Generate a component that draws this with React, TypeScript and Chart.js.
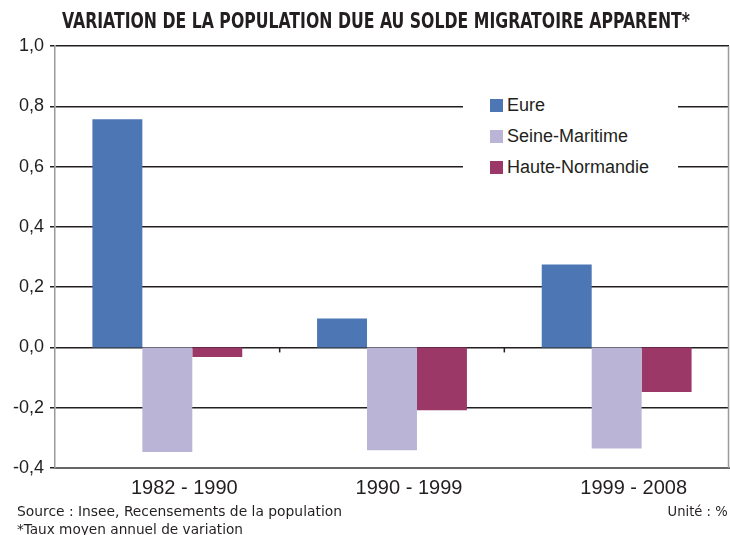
import React, { useEffect, useLayoutEffect, useRef } from "react";
import { Chart, registerables } from "chart.js";

Chart.register(...registerables);

const categories = ["1982 - 1990", "1990 - 1999", "1999 - 2008"];
const eure = [0.757, 0.096, 0.275];
const seineMaritime = [-0.347, -0.341, -0.335];
const hauteNormandie = [-0.032, -0.208, -0.148];
const seriesNames = ["Eure", "Seine-Maritime", "Haute-Normandie"];
const seriesColors = ["#4d76b4", "#bab5d7", "#9c3868"];
const title = "VARIATION DE LA POPULATION DUE AU SOLDE MIGRATOIRE APPARENT*";
const source = "Source : Insee, Recensements de la population";
const note = "*Taux moyen annuel de variation";
const unit = "Unité : %";

const frame = {
  id: "frame",
  afterDatasetsDraw(chart: any) {
    const { ctx, scales, chartArea } = chart;
    const x = scales.x;
    const y0 = scales.y.getPixelForValue(0);
    ctx.save();
    ctx.strokeStyle = "#231f20";
    ctx.lineWidth = 1.5;
    for (let i = 1; i < categories.length; i++) {
      const px = (x.getPixelForValue(i - 1) + x.getPixelForValue(i)) / 2;
      ctx.beginPath();
      ctx.moveTo(px, y0);
      ctx.lineTo(px, y0 + 5);
      ctx.stroke();
    }
    ctx.strokeStyle = "#9a9a9a";
    ctx.beginPath();
    ctx.moveTo(chartArea.right - 0.5, chartArea.top);
    ctx.lineTo(chartArea.right - 0.5, chartArea.bottom);
    ctx.stroke();
    ctx.restore();
  },
};

function FitText(props: { text: string; width: number; style: any; left?: number; right?: number; top: number }) {
  const ref = useRef<HTMLSpanElement>(null);
  useLayoutEffect(() => {
    const el = ref.current!;
    el.style.transform = "none";
    const w = el.getBoundingClientRect().width;
    if (w > 0) el.style.transform = `scaleX(${props.width / w})`;
  }, [props.text, props.width]);
  const pos: any = { position: "absolute", top: props.top, whiteSpace: "nowrap", ...props.style };
  if (props.right !== undefined) {
    pos.right = props.right;
    pos.transformOrigin = "right top";
  } else {
    pos.left = props.left;
    pos.transformOrigin = "left top";
  }
  return (
    <span ref={ref} style={pos}>
      {props.text}
    </span>
  );
}

export default function App() {
  const ref = useRef<HTMLCanvasElement>(null);
  useEffect(() => {
    const values = [eure, seineMaritime, hauteNormandie];
    const chart = new Chart(ref.current!, {
      type: "bar",
      data: {
        labels: categories,
        datasets: seriesNames.map((n, i) => ({
          label: n,
          data: values[i],
          backgroundColor: seriesColors[i],
          categoryPercentage: 0.667,
          barPercentage: 1,
        })),
      },
      options: {
        animation: false,
        responsive: false,
        events: [],
        layout: { padding: { top: 46, right: 1, bottom: 27, left: 0 } },
        plugins: { legend: { display: false }, tooltip: { enabled: false }, title: { display: false } },
        scales: {
          x: {
            grid: { display: false },
            border: { display: true, color: "#666", width: 2 },
            ticks: { color: "#231f20", font: { family: "Liberation Sans, Arial", size: 20 }, padding: 0, labelOffset: 17 },
            afterFit: (s: any) => { s.height = 40; },
          },
          y: {
            min: -0.4,
            max: 1.0,
            ticks: {
              stepSize: 0.2,
              color: "#231f20",
              padding: 6,
              font: { family: "Liberation Sans, Arial", size: 18 },
              callback: (v: any) => {
                const n = Math.abs(Number(v)) < 1e-9 ? 0 : Number(v);
                return n.toFixed(1).replace(".", ",");
              },
            },
            grid: {
              color: (c: any) => (c.tick && Math.abs(c.tick.value + 0.4) < 1e-6 ? "rgba(0,0,0,0)" : "#231f20"),
              tickColor: "#231f20",
              lineWidth: 1.5,
              tickLength: 5,
              drawTicks: true,
            },
            border: { display: true, color: "#9a9a9a", width: 1.5 },
            afterFit: (s: any) => { s.width = 55; },
          },
        },
      },
      plugins: [frame],
    });
    return () => chart.destroy();
  }, []);

  const narrow = "'DejaVu Sans Condensed', 'Liberation Sans', Arial, sans-serif";
  const small = { fontFamily: narrow, fontSize: 14, color: "#231f20", lineHeight: "16px" };
  return (
    <div style={{ position: "fixed", left: 0, top: 0, width: 730, height: 535, background: "#fff", overflow: "hidden" }}>
      <canvas ref={ref} width={730} height={535} style={{ position: "absolute", left: 0, top: 0 }} />
      <FitText
        text={title}
        width={628}
        left={62}
        top={8}
        style={{ fontFamily: narrow, fontWeight: "bold", fontSize: 22, color: "#231f20", lineHeight: "26px" }}
      />
      <div style={{ position: "absolute", left: 463, top: 86, width: 215, height: 98, background: "#fff" }} />
      {seriesNames.map((n, i) => (
        <div
          key={n}
          style={{ position: "absolute", left: 490, top: 95.5 + i * 30.8, height: 20, display: "flex", alignItems: "center", fontFamily: "Liberation Sans, Arial, sans-serif", fontSize: 18, color: "#231f20", whiteSpace: "nowrap" }}
        >
          <span style={{ display: "inline-block", width: 13, height: 13, background: seriesColors[i], marginRight: 4 }} />
          {n}
        </div>
      ))}
      <FitText text={source} width={325} left={17} top={503} style={small} />
      <FitText text={note} width={226} left={17} top={521} style={small} />
      <FitText text={unit} width={60} right={2} top={503} style={small} />
    </div>
  );
}
